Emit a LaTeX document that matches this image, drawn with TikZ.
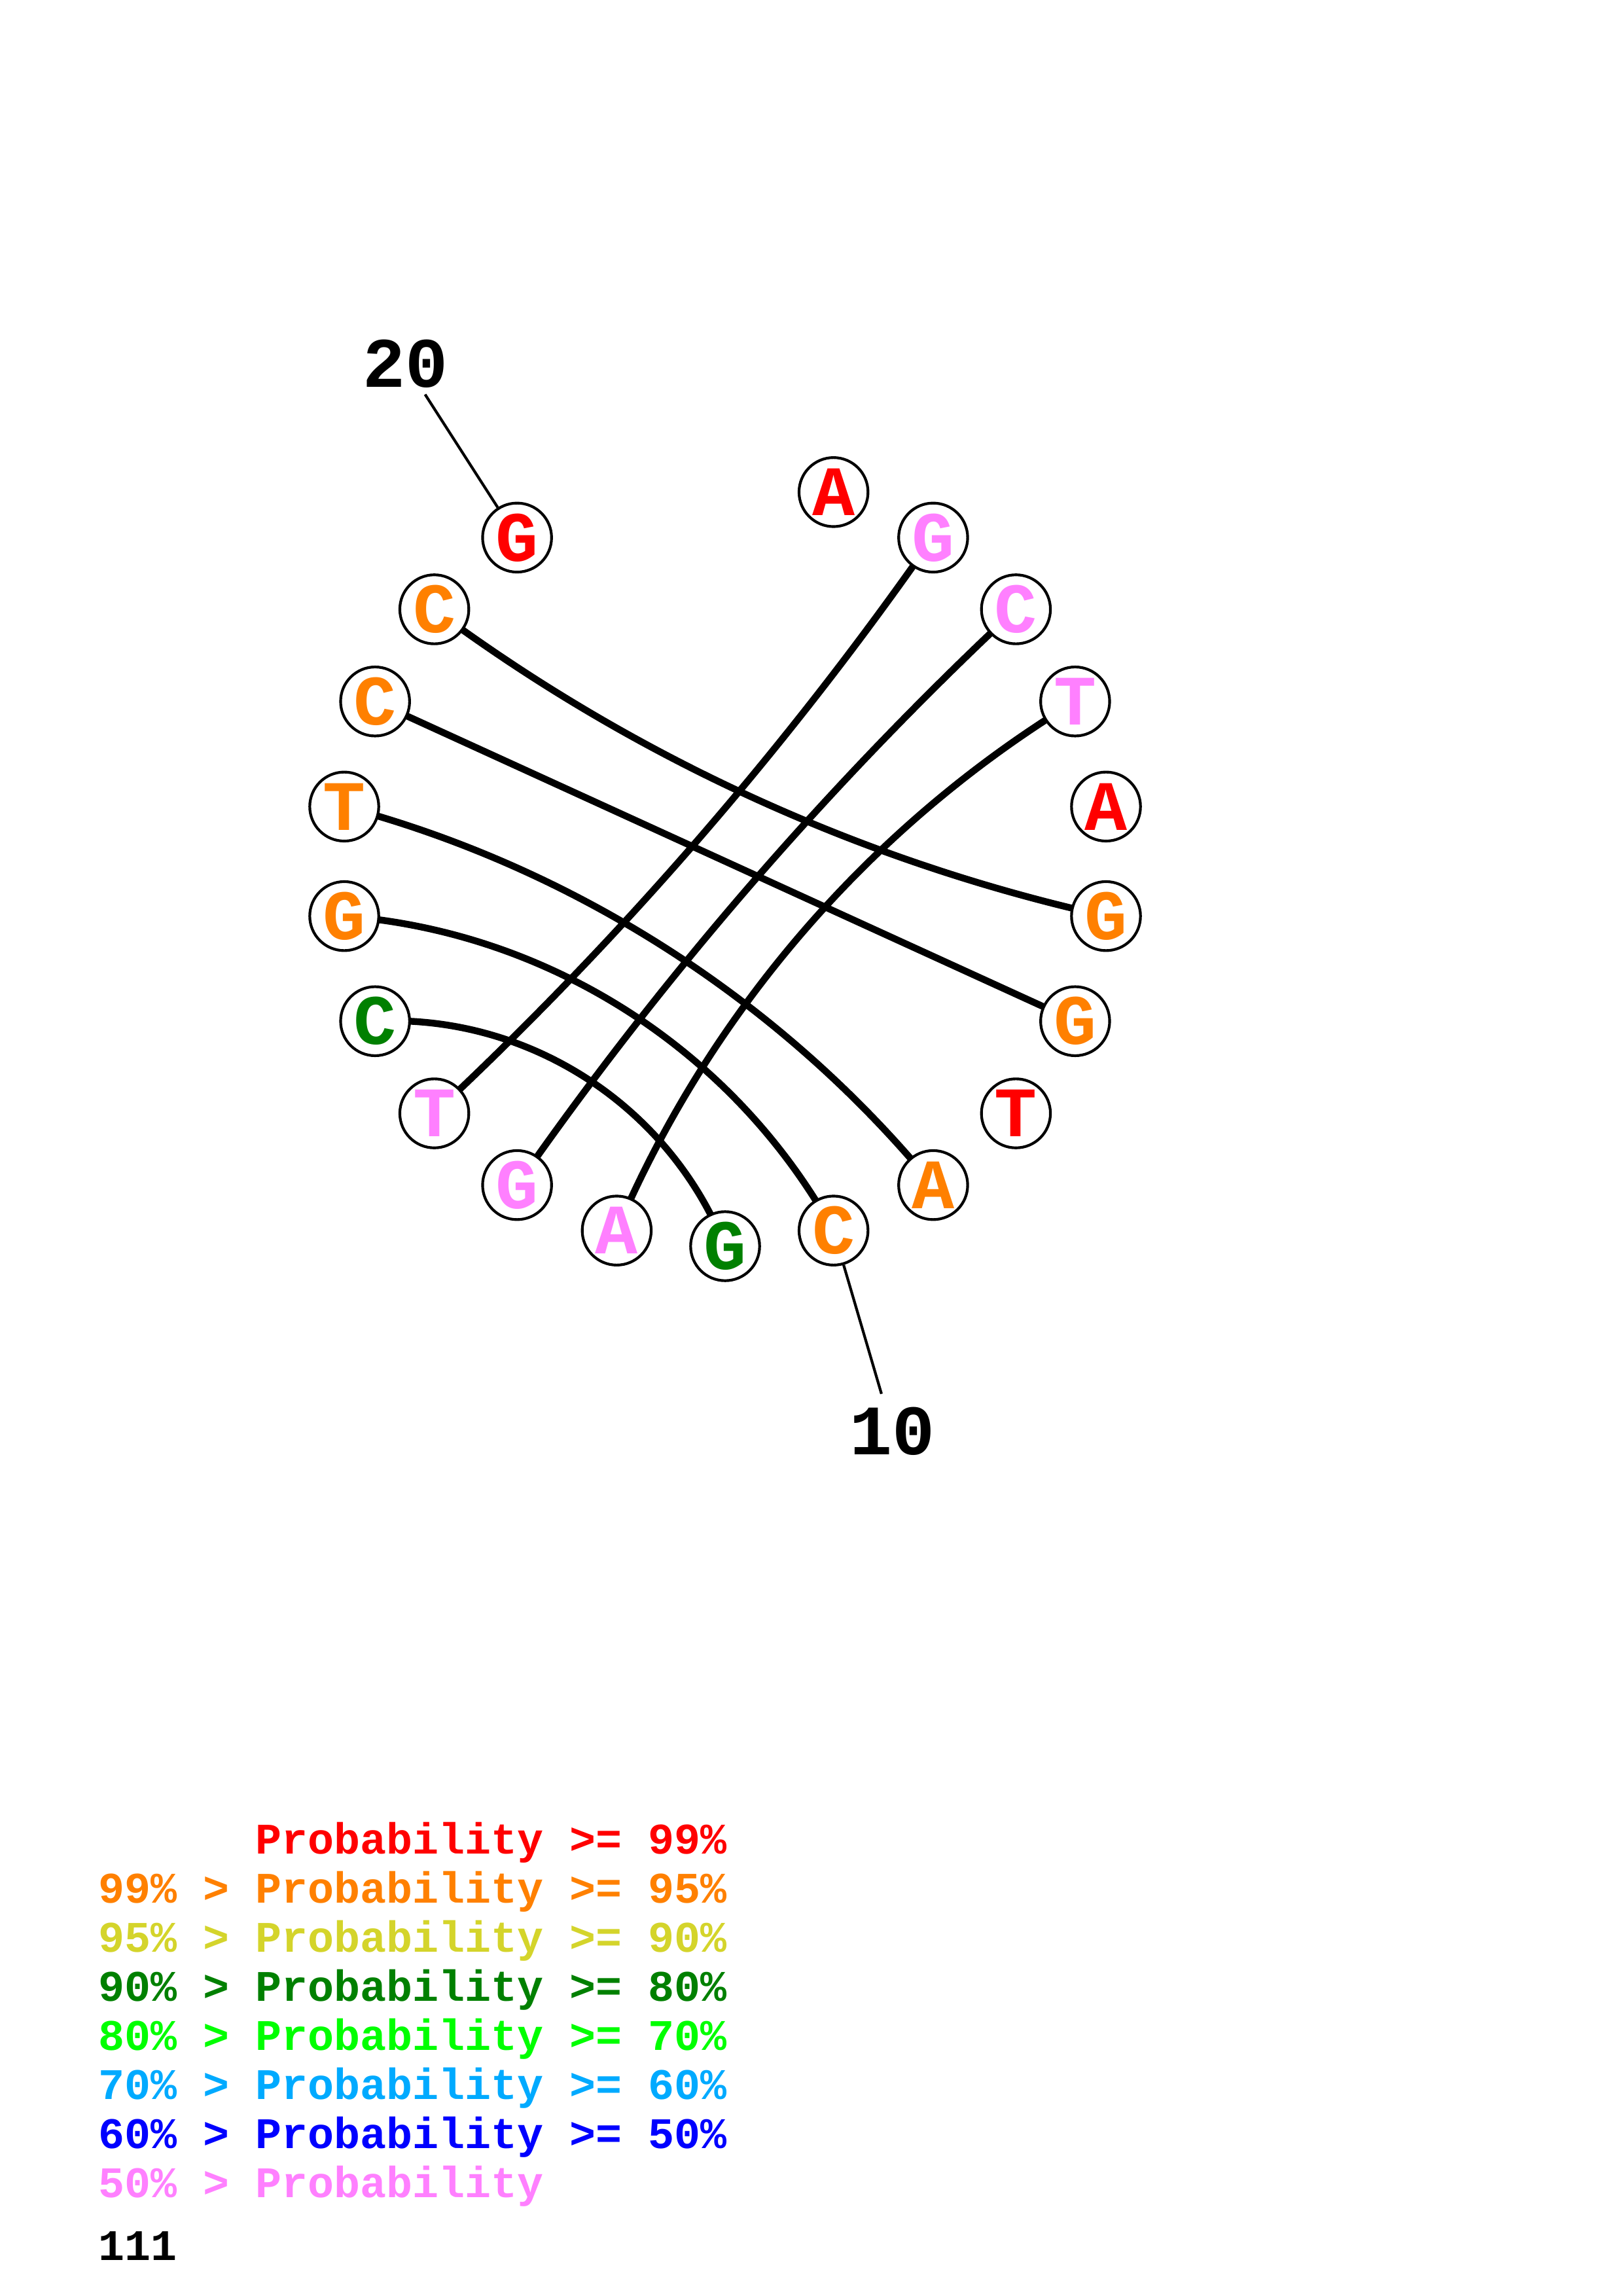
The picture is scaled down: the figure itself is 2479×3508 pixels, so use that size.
\documentclass[tikz,border=0pt]{standalone}
\usepackage{fontspec}
\setmonofont{Liberation Mono}
\usetikzlibrary{calc,backgrounds}
\definecolor{pR}{RGB}{255,0,0}
\definecolor{pO}{RGB}{255,128,0}
\definecolor{pY}{RGB}{212,212,43}
\definecolor{pDG}{RGB}{0,128,0}
\definecolor{pLG}{RGB}{0,255,0}
\definecolor{pLB}{RGB}{0,170,255}
\definecolor{pB}{RGB}{0,0,255}
\definecolor{pP}{RGB}{255,128,255}
\newcommand\basefont{\ttfamily\bfseries\fontsize{26}{26}\selectfont}
\newcommand\legfont{\ttfamily\bfseries\fontsize{16}{18}\selectfont}
\begin{document}
\begin{tikzpicture}[x=0.24pt,y=0.24pt,
  nt/.style={circle, draw=black, line width=1pt, fill=white, minimum size=25.3pt, inner sep=0pt, font=\basefont},
  numlab/.style={inner sep=0pt, font=\basefont, text=black},
  lbl/.style={draw=black, line width=1pt},
  pairarc/.style={draw=black, line width=2.5pt},
  leg/.style={anchor=base west, inner sep=0pt, font=\legfont}]
\useasboundingbox (0,0) rectangle (2479,-3508);
\coordinate (O) at (1108,-1316);
% nucleotides, clockwise
\node[nt, text=pR]  (n1)  at ($(O)+({90-1*16.3636}:588)$) {A};
\node[nt, text=pP]  (n2)  at ($(O)+({90-2*16.3636}:588)$) {G};
\node[nt, text=pP]  (n3)  at ($(O)+({90-3*16.3636}:588)$) {C};
\node[nt, text=pP]  (n4)  at ($(O)+({90-4*16.3636}:588)$) {T};
\node[nt, text=pR]  (n5)  at ($(O)+({90-5*16.3636}:588)$) {A};
\node[nt, text=pO]  (n6)  at ($(O)+({90-6*16.3636}:588)$) {G};
\node[nt, text=pO]  (n7)  at ($(O)+({90-7*16.3636}:588)$) {G};
\node[nt, text=pR]  (n8)  at ($(O)+({90-8*16.3636}:588)$) {T};
\node[nt, text=pO]  (n9)  at ($(O)+({90-9*16.3636}:588)$) {A};
\node[nt, text=pO]  (n10) at ($(O)+({90-10*16.3636}:588)$) {C};
\node[nt, text=pDG] (n11) at ($(O)+({90-11*16.3636}:588)$) {G};
\node[nt, text=pP]  (n12) at ($(O)+({90-12*16.3636}:588)$) {A};
\node[nt, text=pP]  (n13) at ($(O)+({90-13*16.3636}:588)$) {G};
\node[nt, text=pP]  (n14) at ($(O)+({90-14*16.3636}:588)$) {T};
\node[nt, text=pDG] (n15) at ($(O)+({90-15*16.3636}:588)$) {C};
\node[nt, text=pO]  (n16) at ($(O)+({90-16*16.3636}:588)$) {G};
\node[nt, text=pO]  (n17) at ($(O)+({90-17*16.3636}:588)$) {T};
\node[nt, text=pO]  (n18) at ($(O)+({90-18*16.3636}:588)$) {C};
\node[nt, text=pO]  (n19) at ($(O)+({90-19*16.3636}:588)$) {C};
\node[nt, text=pR]  (n20) at ($(O)+({90-20*16.3636}:588)$) {G};
% pair arcs
\begin{scope}[on background layer]
\draw[pairarc] (n19.center) to[bend right=12.04, looseness=0.861] (n6.center);
\draw[pairarc] (n18.center) -- (n7.center);
\draw[pairarc] (n9.center) to[bend right=17.85, looseness=0.872] (n17.center);
\draw[pairarc] (n10.center) to[bend right=28.34, looseness=0.906] (n16.center);
\draw[pairarc] (n11.center) to[bend right=35.45, looseness=0.9385] (n15.center);
\draw[pairarc] (n14.center) to[bend right=6.06, looseness=0.854] (n2.center);
\draw[pairarc] (n3.center) to[bend right=6.06, looseness=0.854] (n13.center);
\draw[pairarc] (n4.center) to[bend right=17.85, looseness=0.872] (n12.center);
\end{scope}
% index labels
\coordinate (e20) at ($(O)+({90-20*16.3636}:848)$);
\coordinate (e10) at ($(O)+({90-10*16.3636}:848)$);
\draw[lbl] (n20) -- (e20);
\draw[lbl] (n10) -- (e10);
\node[numlab] (t20) at ($(O)+({90-20*16.3636}:904)$) {20};
\node[numlab] (t10) at ($(O)+({90-10*16.3636}:908)$) {10};
% legend
\node[leg, text=pR]  (g1) at (390,-2832) {Probability >= 99\%};
\node[leg, text=pO]  (g2) at (150,-2907) {99\% > Probability >= 95\%};
\node[leg, text=pY]  (g3) at (150,-2982) {95\% > Probability >= 90\%};
\node[leg, text=pDG] (g4) at (150,-3057) {90\% > Probability >= 80\%};
\node[leg, text=pLG] (g5) at (150,-3132) {80\% > Probability >= 70\%};
\node[leg, text=pLB] (g6) at (150,-3207) {70\% > Probability >= 60\%};
\node[leg, text=pB]  (g7) at (150,-3282) {60\% > Probability >= 50\%};
\node[leg, text=pP]  (g8) at (150,-3357) {50\% > Probability};
\node[leg, text=black] (g9) at (150,-3453) {111};
\end{tikzpicture}
\end{document}
